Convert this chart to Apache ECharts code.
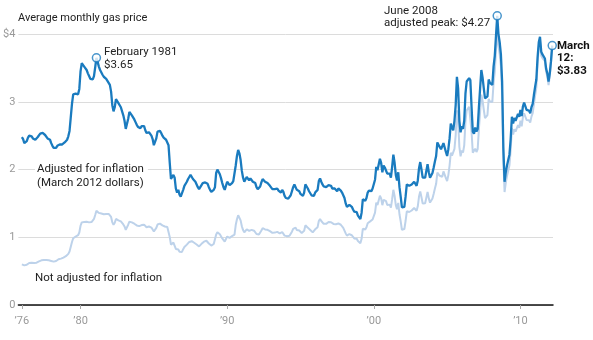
<!DOCTYPE html>
<html>
<head>
<meta charset="utf-8">
<script src="https://cdn.jsdelivr.net/npm/echarts@6/dist/echarts.min.js"></script>
<style>
  html, body { margin: 0; padding: 0; background: #fff; }
  #chart { width: 593px; height: 340px; }
</style>
</head>
<body>
<div id="chart"></div>
<script>
// Monthly average gas price, January 1976 through March 2012
const startYear = 1976;

// Adjusted for inflation (March 2012 dollars), one row per year
const adjusted = [
  2.48, 2.45, 2.39, 2.38, 2.42, 2.47, 2.50, 2.50, 2.49, 2.46, 2.45, 2.44,
  2.45, 2.48, 2.50, 2.53, 2.53, 2.54, 2.52, 2.51, 2.50, 2.46, 2.45, 2.44,
  2.39, 2.35, 2.32, 2.30, 2.32, 2.35, 2.37, 2.37, 2.37, 2.37, 2.39, 2.40,
  2.42, 2.44, 2.49, 2.57, 2.77, 2.97, 3.11, 3.12, 3.12, 3.11, 3.11, 3.19,
  3.45, 3.57, 3.55, 3.52, 3.50, 3.47, 3.42, 3.38, 3.34, 3.33, 3.33, 3.38,
  3.51, 3.65, 3.59, 3.52, 3.47, 3.45, 3.40, 3.37, 3.38, 3.34, 3.31, 3.30,
  3.25, 3.15, 2.95, 2.86, 2.92, 3.04, 3.02, 2.98, 2.96, 2.92, 2.86, 2.80,
  2.72, 2.60, 2.62, 2.75, 2.85, 2.83, 2.80, 2.78, 2.74, 2.70, 2.66, 2.63,
  2.62, 2.61, 2.64, 2.66, 2.64, 2.58, 2.54, 2.52, 2.55, 2.53, 2.50, 2.45,
  2.36, 2.38, 2.46, 2.56, 2.58, 2.57, 2.54, 2.50, 2.47, 2.45, 2.44, 2.42,
  2.36, 2.10, 1.86, 1.84, 1.92, 1.88, 1.72, 1.66, 1.70, 1.63, 1.60, 1.62,
  1.70, 1.76, 1.78, 1.82, 1.86, 1.89, 1.92, 1.90, 1.86, 1.84, 1.82, 1.78,
  1.74, 1.71, 1.72, 1.77, 1.80, 1.82, 1.81, 1.83, 1.79, 1.74, 1.70, 1.67,
  1.68, 1.70, 1.74, 1.95, 2.00, 1.98, 1.93, 1.87, 1.80, 1.74, 1.70, 1.69,
  1.82, 1.80, 1.77, 1.78, 1.80, 1.83, 1.82, 2.06, 2.20, 2.29, 2.24, 2.14,
  1.98, 1.88, 1.82, 1.84, 1.89, 1.88, 1.84, 1.87, 1.86, 1.82, 1.83, 1.80,
  1.74, 1.71, 1.72, 1.75, 1.81, 1.86, 1.84, 1.82, 1.80, 1.80, 1.79, 1.76,
  1.74, 1.71, 1.69, 1.71, 1.73, 1.72, 1.69, 1.68, 1.66, 1.70, 1.67, 1.61,
  1.58, 1.59, 1.57, 1.59, 1.62, 1.68, 1.74, 1.78, 1.76, 1.70, 1.72, 1.68,
  1.64, 1.62, 1.61, 1.66, 1.78, 1.77, 1.72, 1.68, 1.66, 1.62, 1.60, 1.61,
  1.66, 1.65, 1.70, 1.83, 1.87, 1.82, 1.78, 1.75, 1.74, 1.74, 1.76, 1.77,
  1.76, 1.76, 1.72, 1.72, 1.72, 1.71, 1.68, 1.72, 1.74, 1.69, 1.66, 1.62,
  1.58, 1.50, 1.45, 1.46, 1.48, 1.47, 1.45, 1.41, 1.38, 1.39, 1.37, 1.32,
  1.30, 1.27, 1.36, 1.56, 1.57, 1.54, 1.58, 1.66, 1.69, 1.69, 1.68, 1.72,
  1.74, 1.85, 2.04, 1.99, 2.00, 2.16, 2.10, 1.96, 2.06, 2.03, 2.02, 1.94,
  1.93, 1.94, 1.88, 2.04, 2.22, 2.10, 1.92, 1.84, 1.96, 1.74, 1.60, 1.44,
  1.46, 1.45, 1.60, 1.78, 1.78, 1.76, 1.77, 1.78, 1.78, 1.82, 1.80, 1.76,
  1.84, 2.02, 2.11, 2.00, 1.88, 1.86, 1.88, 1.98, 2.08, 1.96, 1.88, 1.86,
  1.95, 2.03, 2.12, 2.20, 2.40, 2.41, 2.33, 2.30, 2.30, 2.39, 2.38, 2.26,
  2.20, 2.30, 2.46, 2.68, 2.62, 2.58, 2.72, 2.95, 3.37, 3.20, 2.72, 2.55,
  2.64, 2.60, 2.72, 3.12, 3.30, 3.28, 3.35, 3.32, 2.92, 2.56, 2.53, 2.62,
  2.56, 2.60, 2.92, 3.20, 3.47, 3.36, 3.20, 3.05, 3.05, 3.08, 3.33, 3.28,
  3.28, 3.25, 3.52, 3.68, 3.98, 4.27, 4.00, 3.88, 3.70, 3.30, 2.32, 1.82,
  1.96, 2.06, 2.14, 2.22, 2.45, 2.78, 2.68, 2.76, 2.72, 2.74, 2.82, 2.78,
  2.88, 2.79, 2.93, 2.99, 2.97, 2.88, 2.87, 2.87, 2.83, 2.92, 2.97, 3.10,
  3.22, 3.33, 3.65, 3.88, 3.96, 3.74, 3.70, 3.68, 3.64, 3.49, 3.42, 3.30,
  3.42, 3.60, 3.83
];

// Not adjusted for inflation (dollars of the day), one row per year
const nominal = [
  0.600, 0.595, 0.585, 0.585, 0.595, 0.610, 0.620, 0.625, 0.625, 0.620, 0.620, 0.620,
  0.625, 0.635, 0.645, 0.655, 0.660, 0.665, 0.665, 0.665, 0.665, 0.660, 0.660, 0.660,
  0.650, 0.645, 0.640, 0.640, 0.650, 0.665, 0.675, 0.680, 0.685, 0.690, 0.700, 0.710,
  0.720, 0.735, 0.755, 0.790, 0.860, 0.930, 0.985, 1.000, 1.010, 1.020, 1.030, 1.070,
  1.170, 1.220, 1.225, 1.225, 1.230, 1.230, 1.225, 1.220, 1.220, 1.225, 1.240, 1.270,
  1.330, 1.393, 1.380, 1.360, 1.350, 1.350, 1.340, 1.340, 1.350, 1.345, 1.340, 1.345,
  1.335, 1.300, 1.220, 1.185, 1.215, 1.270, 1.265, 1.250, 1.245, 1.235, 1.210, 1.190,
  1.160, 1.110, 1.125, 1.185, 1.230, 1.225, 1.220, 1.215, 1.200, 1.185, 1.175, 1.165,
  1.164, 1.163, 1.180, 1.192, 1.186, 1.163, 1.148, 1.142, 1.159, 1.153, 1.143, 1.123,
  1.086, 1.098, 1.139, 1.188, 1.202, 1.201, 1.191, 1.175, 1.165, 1.159, 1.159, 1.152,
  1.128, 1.004, 0.891, 0.882, 0.922, 0.903, 0.828, 0.800, 0.820, 0.787, 0.774, 0.784,
  0.824, 0.856, 0.868, 0.891, 0.914, 0.931, 0.949, 0.942, 0.925, 0.919, 0.912, 0.894,
  0.877, 0.865, 0.874, 0.903, 0.922, 0.935, 0.933, 0.948, 0.930, 0.908, 0.891, 0.878,
  0.887, 0.901, 0.927, 1.042, 1.074, 1.067, 1.044, 1.016, 0.983, 0.954, 0.936, 0.934,
  1.011, 1.004, 0.992, 1.002, 1.018, 1.040, 1.039, 1.181, 1.267, 1.325, 1.302, 1.250,
  1.162, 1.106, 1.072, 1.087, 1.118, 1.115, 1.094, 1.114, 1.110, 1.089, 1.097, 1.081,
  1.048, 1.032, 1.041, 1.062, 1.101, 1.134, 1.125, 1.116, 1.106, 1.110, 1.106, 1.090,
  1.081, 1.065, 1.055, 1.069, 1.084, 1.080, 1.064, 1.059, 1.049, 1.077, 1.060, 1.024,
  1.007, 1.016, 1.005, 1.021, 1.042, 1.083, 1.125, 1.153, 1.143, 1.106, 1.122, 1.099,
  1.075, 1.064, 1.060, 1.095, 1.176, 1.173, 1.142, 1.118, 1.107, 1.083, 1.072, 1.081,
  1.117, 1.113, 1.149, 1.241, 1.271, 1.240, 1.216, 1.199, 1.195, 1.198, 1.215, 1.225,
  1.221, 1.222, 1.196, 1.197, 1.199, 1.193, 1.174, 1.204, 1.219, 1.185, 1.166, 1.139,
  1.113, 1.058, 1.024, 1.033, 1.048, 1.043, 1.030, 1.003, 0.983, 0.991, 0.979, 0.944,
  0.931, 0.912, 0.978, 1.125, 1.134, 1.115, 1.147, 1.208, 1.233, 1.235, 1.231, 1.263,
  1.280, 1.365, 1.510, 1.477, 1.489, 1.613, 1.574, 1.474, 1.554, 1.536, 1.533, 1.476,
  1.473, 1.482, 1.438, 1.562, 1.701, 1.610, 1.475, 1.414, 1.508, 1.340, 1.234, 1.111,
  1.127, 1.122, 1.240, 1.383, 1.386, 1.373, 1.384, 1.395, 1.397, 1.432, 1.420, 1.390,
  1.457, 1.602, 1.676, 1.591, 1.498, 1.484, 1.503, 1.585, 1.668, 1.574, 1.512, 1.499,
  1.574, 1.642, 1.719, 1.789, 1.956, 1.969, 1.908, 1.888, 1.893, 1.972, 1.969, 1.874,
  1.829, 1.918, 2.059, 2.248, 2.205, 2.179, 2.305, 2.509, 2.875, 2.737, 2.335, 2.196,
  2.282, 2.251, 2.359, 2.711, 2.872, 2.860, 2.926, 2.905, 2.559, 2.248, 2.225, 2.308,
  2.259, 2.303, 2.596, 2.855, 3.106, 3.016, 2.883, 2.758, 2.768, 2.805, 3.044, 3.006,
  3.017, 2.998, 3.277, 3.446, 3.758, 4.074, 3.835, 3.706, 3.531, 3.116, 2.148, 1.668,
  1.803, 1.906, 1.983, 2.063, 2.285, 2.613, 2.516, 2.596, 2.561, 2.582, 2.658, 2.615,
  2.720, 2.637, 2.772, 2.831, 2.815, 2.732, 2.726, 2.728, 2.693, 2.781, 2.831, 2.961,
  3.090, 3.211, 3.558, 3.804, 3.901, 3.681, 3.645, 3.633, 3.600, 3.445, 3.373, 3.248,
  3.379, 3.575, 3.830
];

const yTickValues = [0, 1, 2, 3, 4];
const xTickYears = [1976, 1980, 1990, 2000, 2010];
const xTickLabels = ['\u201976', '\u201980', '\u201990', '\u201900', '\u201910'];
const monthNames = ['January', 'February', 'March', 'April', 'May', 'June',
  'July', 'August', 'September', 'October', 'November', 'December'];

// Months called out with a ring: February 1981, June 2008, March 2012
const peakEarly = 61;
const peakAll = 389;
const latest = adjusted.length - 1;

const monthX = i => startYear + i / 12;
const toPairs = arr => arr.map((v, i) => [monthX(i), v]);
const monthLabel = i => monthNames[i % 12] + ' ' + (startYear + Math.floor(i / 12));
const money = v => '$' + v.toFixed(2);

const BLUE = '#1a7bbf';
const LIGHT = '#bdd2ea';
const FONT = 'Roboto, "Liberation Sans", Arial, sans-serif';
const INK = '#222';

const chart = echarts.init(document.getElementById('chart'), null, { renderer: 'canvas' });

chart.setOption({
  animation: false,
  backgroundColor: '#fff',
  grid: { left: 17, right: 40, top: 7, bottom: 35, containLabel: false },
  xAxis: {
    type: 'value',
    min: 1975.76,
    max: 2012.22,
    axisLine: { show: true, onZero: false, lineStyle: { color: '#111', width: 1.5 } },
    axisTick: { show: true, customValues: xTickYears, length: 4, lineStyle: { color: '#aaa' } },
    axisLabel: {
      customValues: xTickYears,
      formatter: v => { const k = xTickYears.indexOf(v); return k >= 0 ? xTickLabels[k] : ''; },
      color: '#999', fontSize: 11, fontFamily: FONT, margin: 11
    },
    splitLine: { show: false }
  },
  yAxis: {
    type: 'value',
    min: 0,
    max: 4.4,
    axisLine: { show: false },
    axisTick: { show: false, customValues: yTickValues },
    axisLabel: {
      customValues: yTickValues,
      formatter: v => (v === 4 ? '$4' : String(v)),
      color: '#999', fontSize: 11, fontFamily: FONT, margin: 3
    },
    splitLine: { show: true, lineStyle: { color: '#dcdcdc', width: 1 } }
  },
  series: [
    {
      name: 'Not adjusted for inflation',
      type: 'line',
      data: toPairs(nominal),
      showSymbol: false,
      silent: true,
      lineStyle: { color: LIGHT, width: 2 },
      z: 2
    },
    {
      name: 'Adjusted for inflation',
      type: 'line',
      data: toPairs(adjusted),
      showSymbol: false,
      silent: true,
      lineStyle: { color: BLUE, width: 2.3 },
      z: 3
    },
    {
      name: 'Callouts',
      type: 'scatter',
      data: [peakEarly, peakAll, latest].map(i => [monthX(i), adjusted[i]]),
      symbol: 'circle',
      symbolSize: 8,
      silent: true,
      itemStyle: { color: '#fff', borderColor: BLUE, borderWidth: 1.5 },
      z: 5
    }
  ],
  graphic: [
    {
      type: 'text', x: 18, y: 13, z: 10,
      style: { text: 'Average monthly gas price', fill: INK, font: '11px ' + FONT }
    },
    {
      type: 'text', x: 104, y: 46, z: 10,
      style: {
        text: monthLabel(peakEarly) + '\n' + money(adjusted[peakEarly]),
        fill: INK, font: '11.5px ' + FONT, lineHeight: 12.5
      }
    },
    {
      type: 'text', x: 384, y: 4.5, z: 10,
      style: {
        text: monthLabel(peakAll) + '\nadjusted peak: ' + money(adjusted[peakAll]),
        fill: INK, font: '11.5px ' + FONT, lineHeight: 12.5
      }
    },
    {
      type: 'text', x: 557, y: 39.5, z: 10,
      style: {
        text: monthNames[latest % 12] + '\n' + String(startYear + Math.floor(latest / 12)).slice(2) + ':\n' + money(adjusted[latest]),
        fill: '#111', font: 'bold 11.5px ' + FONT, lineHeight: 12.5
      }
    },
    {
      type: 'text', x: 35, y: 162, z: 10,
      style: {
        text: 'Adjusted for inflation\n(March 2012 dollars)',
        fill: INK, font: '11.5px ' + FONT, lineHeight: 14,
        backgroundColor: '#fff', padding: [0, 4, 0, 2]
      }
    },
    {
      type: 'text', x: 35, y: 272, z: 10,
      style: { text: 'Not adjusted for inflation', fill: INK, font: '11.5px ' + FONT }
    }
  ]
});
</script>
</body>
</html>
